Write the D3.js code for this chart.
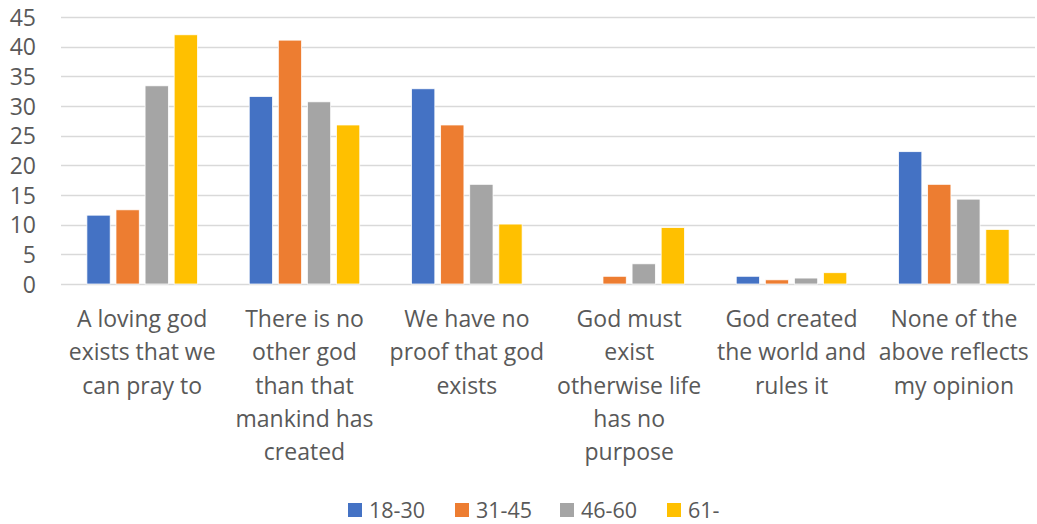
<!DOCTYPE html>
<html>
<head>
<meta charset="utf-8">
<script src="https://cdnjs.cloudflare.com/ajax/libs/d3/7.8.5/d3.min.js"></script>
<style>
  body { margin: 0; background: #fff; }
  svg text { font-family: "Open Sans", Lato, sans-serif; fill: #595959; }
</style>
</head>
<body>
<div id="chart"></div>
<script>
// Category labels, one entry per line of the wrapped axis label.
var categories = [
    ['A loving god', 'exists that we', 'can pray to'],
    ['There is no', 'other god', 'than that', 'mankind has', 'created'],
    ['We have no', 'proof that god', 'exists'],
    ['God must', 'exist', 'otherwise life', 'has no', 'purpose'],
    ['God created', 'the world and', 'rules it'],
    ['None of the', 'above reflects', 'my opinion']
];
var seriesNames = ['18-30', '31-45', '46-60', '61-'];
var s1830 = [11.6, 31.6, 32.9, 0, 1.3, 22.3];
var s3145 = [12.5, 41.1, 26.8, 1.3, 0.7, 16.8];
var s4660 = [33.4, 30.7, 16.8, 3.4, 1.0, 14.3];
var s61 = [42.0, 26.8, 10.1, 9.5, 1.9, 9.2];
var yTicks = [0, 5, 10, 15, 20, 25, 30, 35, 40, 45];

var colors = ['#4472c4', '#ed7d31', '#a5a5a5', '#ffc000'];
var series = [s1830, s3145, s4660, s61];

var width = 1037,
    height = 524,
    margin = {top: 17, right: 2, bottom: 240, left: 61};

var svg = d3.select('#chart').append('svg')
    .attr('width', width)
    .attr('height', height);

var x = d3.scaleBand()
    .domain(d3.range(categories.length))
    .range([margin.left, width - margin.right])
    .paddingInner(0)
    .paddingOuter(0);

var xInner = d3.scaleBand()
    .domain(d3.range(seriesNames.length))
    .range([0, x.bandwidth()])
    .paddingInner(0.2)
    .paddingOuter(0.89);

var y = d3.scaleLinear()
    .domain([0, 45])
    .range([height - margin.bottom, margin.top]);

// Gridlines
svg.append('g')
    .selectAll('line')
    .data(yTicks)
    .join('line')
    .attr('x1', margin.left)
    .attr('x2', width - margin.right)
    .attr('y1', function (d) { return Math.round(y(d)) + 0.5; })
    .attr('y2', function (d) { return Math.round(y(d)) + 0.5; })
    .attr('stroke', '#d9d9d9')
    .attr('stroke-width', 1.5);

// Y axis labels
var yAxis = svg.append('g')
    .attr('transform', 'translate(' + (margin.left - 25) + ',0)')
    .call(d3.axisLeft(y).tickValues(yTicks).tickSize(0).tickPadding(0));
yAxis.select('.domain').remove();
yAxis.selectAll('text')
    .attr('font-size', '23px')
    .attr('font-family', '"Open Sans", sans-serif')
    .attr('dy', '0.35em')
    .style('fill', '#595959');

// Bars
var groups = svg.append('g')
    .selectAll('g')
    .data(series)
    .join('g')
    .attr('fill', function (d, i) { return colors[i]; });

groups.each(function (vals, si) {
    d3.select(this).selectAll('rect')
        .data(vals)
        .join('rect')
        .attr('x', function (d, ci) { return x(ci) + xInner(si); })
        .attr('y', function (d) { return y(d); })
        .attr('width', xInner.bandwidth())
        .attr('height', function (d) { return y(0) - y(d); })
        .attr('stroke', '#fff')
        .attr('stroke-width', 0.75)
        .attr('display', function (d) { return d > 0 ? null : 'none'; });
});

// Category labels
var labels = svg.append('g')
    .selectAll('text')
    .data(categories)
    .join('text')
    .attr('text-anchor', 'middle')
    .attr('font-size', '23px')
    .attr('transform', function (d, i) {
        return 'translate(' + (x(i) + x.bandwidth() / 2) + ',' + 327 + ')';
    });

labels.selectAll('tspan')
    .data(function (d) { return d; })
    .join('tspan')
    .attr('x', 0)
    .attr('y', function (d, i) { return i * 33.3; })
    .text(function (d) { return d; });

// Legend
var legendX = [348, 455, 560, 667];
var legend = svg.append('g')
    .selectAll('g')
    .data(seriesNames)
    .join('g')
    .attr('transform', function (d, i) { return 'translate(' + legendX[i] + ',503)'; });

legend.append('rect')
    .attr('width', 14)
    .attr('height', 14)
    .attr('fill', function (d, i) { return colors[i]; });

legend.append('text')
    .attr('x', 21)
    .attr('y', 7)
    .attr('dy', '0.35em')
    .attr('font-size', '21.5px')
    .text(function (d) { return d; });
</script>
</body>
</html>
